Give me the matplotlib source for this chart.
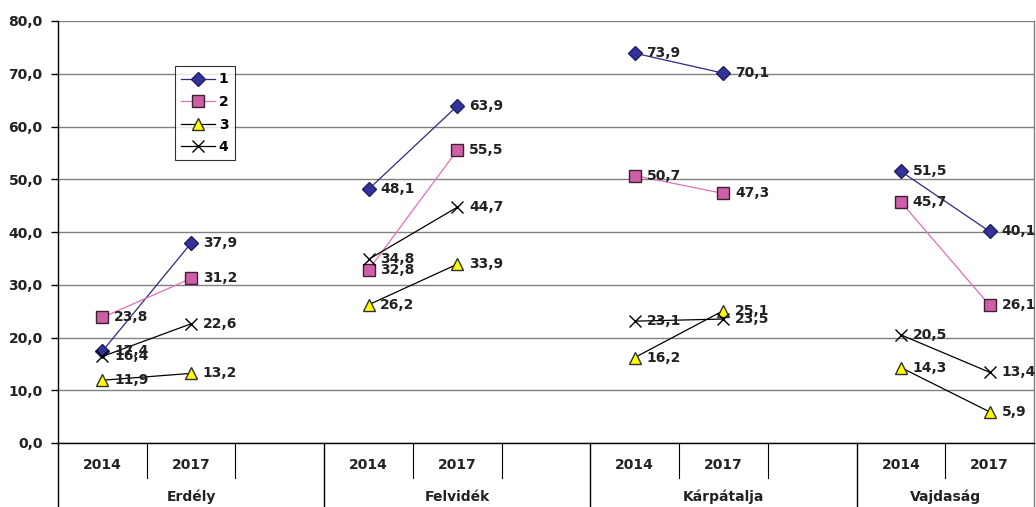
import numpy as np
import matplotlib.pyplot as plt
from matplotlib.ticker import FuncFormatter

plt.rcParams['font.family'] = ['DejaVu Sans']
plt.rcParams['font.weight'] = 'bold'

# slots: 2014, 2017, gap for each region (last region has no gap)
regions = ['Erdély', 'Felvidék', 'Kárpátalja', 'Vajdaság']
years = ['2014', '2017']
nan = np.nan
s1 = [17.4, 37.9, nan, 48.1, 63.9, nan, 73.9, 70.1, nan, 51.5, 40.1]
s2 = [23.8, 31.2, nan, 32.8, 55.5, nan, 50.7, 47.3, nan, 45.7, 26.1]
s3 = [11.9, 13.2, nan, 26.2, 33.9, nan, 16.2, 25.1, nan, 14.3, 5.9]
s4 = [16.4, 22.6, nan, 34.8, 44.7, nan, 23.1, 23.5, nan, 20.5, 13.4]
series_names = ['1', '2', '3', '4']

fig = plt.figure(figsize=(10.36, 5.07), dpi=100)
ax = fig.add_axes([58 / 1036, 64 / 507, 976 / 1036, 422 / 507])

x = np.arange(len(s1))
styles = [
    dict(color='#2B2B80', marker='D', markersize=7, markerfacecolor='#333399', markeredgecolor='#202060'),
    dict(color='#E070B8', marker='s', markersize=8, markerfacecolor='#CC5FA8', markeredgecolor='#402030'),
    dict(color='black', marker='^', markersize=9, markerfacecolor='#FFFF00', markeredgecolor='#303030'),
    dict(color='black', marker='x', markersize=9, markeredgecolor='black', markeredgewidth=1),
]
for vals, name, st in zip([s1, s2, s3, s4], series_names, styles):
    ax.plot(x, vals, lw=0.9, label=name, zorder=3, **st)
    for xi, v in zip(x, vals):
        if not np.isnan(v):
            ax.annotate(f'{v:.1f}'.replace('.', ','), (xi, v), xytext=(8.5, 0),
                        textcoords='offset points', ha='left', va='center',
                        fontsize=10, fontweight='bold', color='#222222', zorder=4)

ax.set_xlim(-0.5, len(s1) - 0.5)
ax.set_ylim(0, 80)
ax.set_yticks(np.arange(0, 81, 10))
ax.yaxis.set_major_formatter(FuncFormatter(lambda v, p: f'{v:.1f}'.replace('.', ',')))
ax.tick_params(axis='y', labelsize=10, length=5, width=1, pad=6, labelcolor='#222222')
for lab in ax.get_yticklabels():
    lab.set_fontweight('bold')
ax.set_xticks([])
ax.grid(axis='y', color='#808080', lw=1)
ax.set_axisbelow(True)
for side in ['left', 'bottom', 'right']:
    ax.spines[side].set_color('black')
    ax.spines[side].set_linewidth(1)
ax.spines['right'].set_color('#808080')
ax.spines['top'].set_visible(False)

# category axis with year row and region row
tr = ax.get_xaxis_transform()
group_start = [0, 3, 6, 9]
for g, reg in zip(group_start, regions):
    for k, yr in enumerate(years):
        ax.text(g + k, -0.052, yr, transform=tr, ha='center', va='center',
                fontsize=10, fontweight='bold', color='#222222')
    gend = min(g + 2.5, len(s1) - 0.5)
    ax.text((g - 0.5 + gend) / 2, -0.128, reg, transform=tr, ha='center', va='center',
            fontsize=10, fontweight='bold', color='#222222')
    ax.plot([g - 0.5, g - 0.5], [0, -0.155], transform=tr, color='black', lw=1, clip_on=False)
    for b in [g + 0.5, g + 1.5]:
        if b < len(s1) - 0.5:
            ax.plot([b, b], [0, -0.082], transform=tr, color='black', lw=0.8, clip_on=False)
ax.plot([len(s1) - 0.5] * 2, [0, -0.155], transform=tr, color='#808080', lw=1, clip_on=False)

leg = ax.legend(loc='upper left', bbox_to_anchor=(0.12, 0.893), frameon=True, fancybox=False,
                edgecolor='black', fontsize=10, handlelength=2.4, labelspacing=0.62,
                borderpad=0.45, handletextpad=0.3, borderaxespad=0)
leg.get_frame().set_linewidth(0.8)
for t in leg.get_texts():
    t.set_fontweight('bold')

fig.savefig('out.png', dpi=100)
